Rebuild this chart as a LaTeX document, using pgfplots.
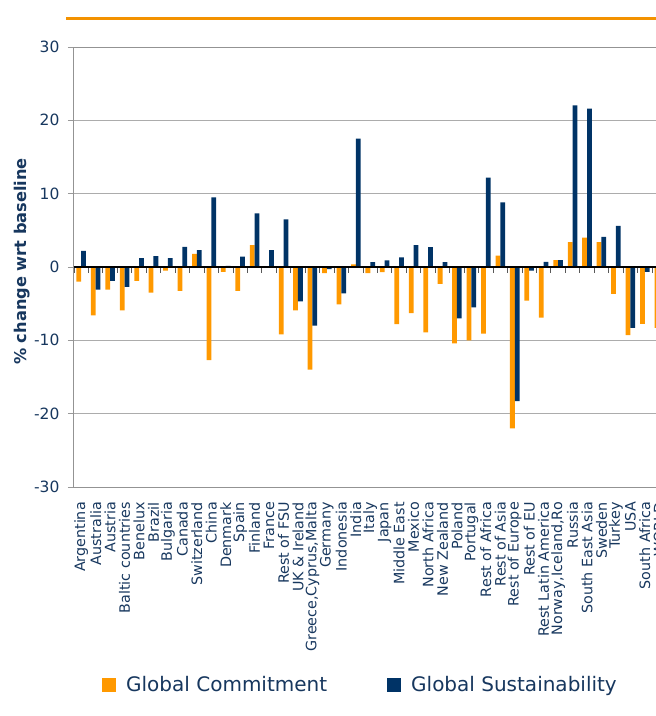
\documentclass[border=0pt]{standalone}
\usepackage{fontspec}
\setmainfont{DejaVu Sans}
\usepackage{pgfplots}
\pgfplotsset{compat=1.18}
\usepackage{pgfplotstable}
\definecolor{gcorange}{RGB}{255,153,0}
\definecolor{gsnavy}{RGB}{0,51,102}
\definecolor{txtnavy}{RGB}{23,55,94}
\definecolor{topline}{RGB}{243,146,0}

\pgfplotstableread{
x gc gs
0 -2.0 2.2
1 -6.6 -3.1
2 -3.1 -1.9
3 -5.9 -2.7
4 -1.9 1.2
5 -3.5 1.5
6 -0.5 1.2
7 -3.25 2.75
8 1.8 2.3
9 -12.7 9.5
10 -0.65 0.15
11 -3.25 1.4
12 3.0 7.3
13 0.0 2.3
14 -9.2 6.5
15 -5.9 -4.7
16 -14.0 -8.0
17 -0.85 -0.3
18 -5.1 -3.6
19 0.35 17.5
20 -0.85 0.65
21 -0.7 0.9
22 -7.8 1.3
23 -6.3 3.0
24 -8.9 2.7
25 -2.3 0.65
26 -10.4 -7.0
27 -10.0 -5.5
28 -9.1 12.2
29 1.55 8.8
30 -22.0 -18.3
31 -4.6 -0.5
32 -6.9 0.7
33 0.95 0.95
34 3.4 22.05
35 4.0 21.6
36 3.4 4.1
37 -3.65 5.6
38 -9.3 -8.3
39 -7.75 -0.65
40 -8.3 1.0
}\datatable

\begin{document}
\begin{tikzpicture}
\draw[topline, line width=2.8pt] (66pt,697.5pt) -- (660pt,697.5pt);
\begin{axis}[
  name=main,
  at={(74pt,229pt)}, anchor=south west,
  scale only axis, width=592.5pt, height=440pt,
  xmin=-0.5, xmax=40.5, ymin=-30, ymax=30,
  ytick={-30,-20,...,30},
  xtick={0,...,40},
  xticklabels={Argentina,Australia,Austria,Baltic countries,Benelux,Brazil,Bulgaria,Canada,Switzerland,China,Denmark,Spain,Finland,France,Rest of FSU,UK \& Ireland,{Greece,Cyprus,Malta},Germany,Indonesia,India,Italy,Japan,Middle East,Mexico,North Africa,New Zealand,Poland,Portugal,Rest of Africa,Rest of Asia,Rest of Europe,Rest of EU,Rest Latin America,{Norway,Iceland,Ro},Russia,South East Asia,Sweden,Turkey,USA,South Africa,WORLD},
  xtick pos=bottom, ytick pos=left,
  x tick style={draw=none},
  y tick style={gray!80, line width=0.8pt},
  tick align=outside, major tick length=6pt,
  xticklabel shift=8pt,
  yticklabel shift=5pt,
  x tick label style={rotate=90, anchor=east, font=\fontsize{14.3}{15}\selectfont, text=txtnavy, inner sep=1pt},
  y tick label style={font=\fontsize{15.5}{16}\selectfont, text=txtnavy},
  /pgf/number format/assume math mode=true,
  ymajorgrids, grid style={gray!65, line width=0.8pt},
  axis line style={gray!85, line width=1pt},
  ylabel={\textbf{\% change wrt baseline}},
  ylabel style={at={(axis description cs:-0.0878,0.5125)}, anchor=center, font=\fontsize{16.2}{17}\selectfont, text=txtnavy},
  legend style={at={(axis description cs:0.4835,-0.45)}, anchor=center, draw=none, fill=none,
    font=\fontsize{20}{21}\selectfont, text=txtnavy,
    nodes={inner sep=2pt},
    /tikz/every odd column/.append style={column sep=8pt},
    /tikz/every even column/.append style={column sep=58pt}},
  legend columns=2,
]
\addplot[ybar, bar width=0.33, bar shift=-0.165, fill=gcorange, draw=none,
  legend image code/.code={\fill[gcorange] (0pt,-7pt) rectangle (14pt,7pt);}]
  table[x=x, y=gc] {\datatable};
\addlegendentry{Global Commitment}
\addplot[ybar, bar width=0.33, bar shift=0.165, fill=gsnavy, draw=none,
  legend image code/.code={\fill[gsnavy] (0pt,-7pt) rectangle (14pt,7pt);}]
  table[x=x, y=gs] {\datatable};
\addlegendentry{Global Sustainability}
\end{axis}
\begin{axis}[
  at={(74pt,229pt)}, anchor=south west,
  scale only axis, width=592.5pt, height=440pt,
  xmin=-0.5, xmax=40.5, ymin=-30, ymax=30,
  axis x line=middle, axis y line=none,
  axis line style={-, black, line width=1.3pt},
  xtick={-0.5,0.5,...,40.5}, xticklabels={},
  ytick=\empty,
  x tick style={black!65, line width=0.9pt},
  xtick align=outside, major tick length=6pt,
]
\addplot[draw=none] coordinates {(0,0)};
\end{axis}
\pgfresetboundingbox
\path[use as bounding box] (0pt,0pt) rectangle (656pt,716pt);
\end{tikzpicture}
\end{document}
